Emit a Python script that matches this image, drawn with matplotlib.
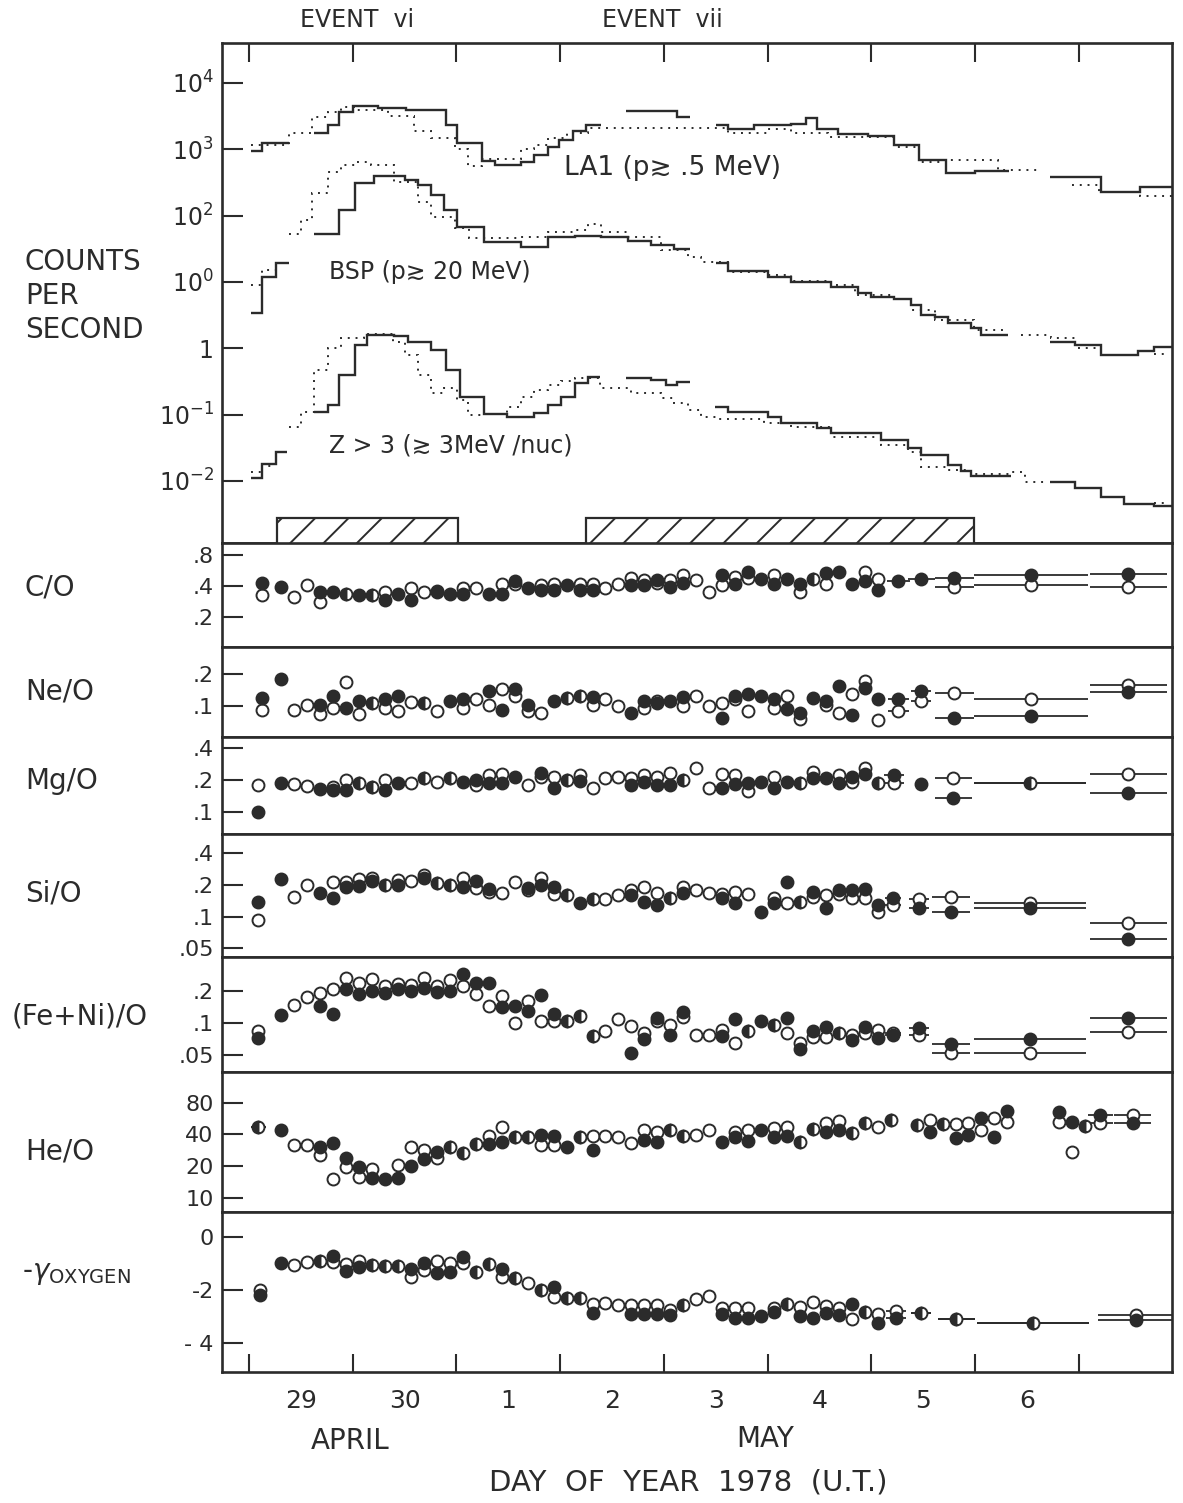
import numpy as np
import matplotlib
matplotlib.use("Agg")
import matplotlib.pyplot as plt

INK = "#2b2b2b"
plt.rcParams["font.family"] = ["DejaVu Sans"]
plt.rcParams["hatch.linewidth"] = 1.4
plt.rcParams["hatch.color"] = INK
nan = float("nan")

# ---------------- data ----------------
# day of year 1978 (119 = 29 April)
DAY_EDGES = [119, 120, 121, 122, 123, 124, 125, 126, 127]
DAY_MIDS = [119.5, 120.5, 121.5, 122.5, 123.5, 124.5, 125.5, 126.5]
DAY_LABELS = ["29", "30", "1", "2", "3", "4", "5", "6"]

# top panel: histograms as (bin edges [day], log10 counts/s) segments
LA1_SOLID = [
    ([119.02, 119.13, 119.39], [2.98, 3.10]),
    ([119.63, 119.76, 119.87, 120.00, 120.24, 120.51, 120.90, 121.01, 121.25, 121.37,
      121.62, 121.75, 121.88, 121.99, 122.12, 122.25, 122.39],
     [3.25, 3.36, 3.57, 3.65, 3.63, 3.59, 3.36, 3.09, 2.83, 2.76, 2.81, 2.91, 3.04,
      3.14, 3.27, 3.36]),
    ([122.64, 123.13, 123.25], [3.58, 3.48]),
    ([123.50, 123.62, 123.87, 124.23, 124.37, 124.48, 124.68, 124.97, 125.22, 125.46,
      125.72, 126.00, 126.33],
     [3.36, 3.30, 3.36, 3.38, 3.47, 3.30, 3.23, 3.20, 3.06, 2.84, 2.64, 2.67]),
    ([126.72, 127.22, 127.59, 127.92], [2.59, 2.35, 2.43]),
]
LA1_DOTTED = [
    ([119.02, 119.39, 119.61, 119.76, 119.89, 120.02, 120.34, 120.59, 120.76, 120.99,
      121.11, 121.25, 121.62, 121.75, 121.88, 122.07, 122.27, 123.62, 124.00, 124.23,
      124.58, 125.22, 125.46, 125.72, 126.22, 126.61],
     [3.06, 3.25, 3.48, 3.57, 3.64, 3.60, 3.50, 3.27, 3.17, 3.01, 2.75, 2.86, 3.01,
      3.06, 3.17, 3.24, 3.32, 3.24, 3.30, 3.25, 3.18, 3.04, 2.81, 2.84, 2.69]),
    ([126.94, 127.20, 127.59, 127.92], [2.46, 2.36, 2.29]),
]
BSP_SOLID = [
    ([119.02, 119.13, 119.26, 119.39], [0.53, 1.08, 1.28]),
    ([119.63, 119.87, 120.02, 120.21, 120.50, 120.63, 120.76, 120.88, 121.01, 121.27,
      121.62, 121.88, 122.14, 122.39, 122.65, 122.88, 123.10, 123.25],
     [1.72, 2.08, 2.49, 2.60, 2.54, 2.46, 2.31, 2.08, 1.83, 1.61, 1.52, 1.68, 1.70,
      1.68, 1.62, 1.56, 1.50]),
    ([123.50, 123.62, 124.00, 124.23, 124.61, 124.87, 125.00, 125.22, 125.38, 125.48,
      125.61, 125.74, 125.96, 126.06, 126.32],
     [1.28, 1.17, 1.08, 1.00, 0.93, 0.84, 0.78, 0.74, 0.65, 0.50, 0.47, 0.38, 0.30,
      0.20]),
    ([126.72, 126.96, 127.22, 127.57, 127.73, 127.92], [0.10, 0.05, -0.10, -0.04, 0.02]),
]
BSP_DOTTED = [
    ([119.02, 119.13, 119.26], [0.95, 1.18]),
    ([119.39, 119.50, 119.61, 119.76, 119.89, 120.02, 120.18, 120.40, 120.63, 120.76,
      120.99, 121.12, 121.62, 121.88, 122.14, 122.27, 122.39, 122.65, 122.97, 123.23,
      123.36, 123.62, 124.00, 124.23, 124.61, 124.84, 125.22, 125.38, 125.61, 125.99,
      126.32],
     [1.73, 1.93, 2.34, 2.66, 2.76, 2.81, 2.76, 2.51, 2.21, 1.98, 1.81, 1.66, 1.68,
      1.76, 1.78, 1.88, 1.76, 1.68, 1.48, 1.38, 1.30, 1.15, 1.10, 1.02, 0.95, 0.80,
      0.74, 0.58, 0.42, 0.27]),
    ([126.44, 126.73, 126.96, 127.20], [0.20, 0.15, 0.00]),
    ([127.73, 127.86], [-0.08]),
]
Z3_SOLID = [
    ([119.02, 119.13, 119.26, 119.37], [-1.96, -1.74, -1.56]),
    ([119.63, 119.76, 119.87, 120.02, 120.14, 120.40, 120.53, 120.76, 120.90, 121.03,
      121.27, 121.49, 121.75, 121.88, 122.01, 122.14, 122.27, 122.38],
     [-0.96, -0.86, -0.40, 0.05, 0.20, 0.18, 0.10, -0.03, -0.33, -0.73, -0.99, -1.03,
      -0.98, -0.86, -0.73, -0.53, -0.43]),
    ([122.64, 122.88, 123.02, 123.13, 123.25], [-0.44, -0.48, -0.55, -0.51]),
    ([123.49, 123.62, 124.00, 124.13, 124.48, 124.61, 125.09, 125.35, 125.48, 125.74,
      125.87, 125.96, 126.35],
     [-0.88, -0.96, -1.03, -1.13, -1.20, -1.28, -1.38, -1.51, -1.61, -1.76, -1.85,
      -1.93]),
    ([126.72, 126.96, 127.22, 127.44, 127.73, 127.92], [-2.01, -2.11, -2.24, -2.34, -2.38]),
]
Z3_DOTTED = [
    ([119.02, 119.13, 119.26], [-1.86, -1.78]),
    ([119.39, 119.50, 119.63, 119.76, 119.89, 120.11, 120.39, 120.50, 120.63, 120.76,
      120.88, 121.01, 121.11, 121.27, 121.49, 121.62, 121.75, 121.88, 122.01, 122.14,
      122.38, 122.68, 122.97, 123.10, 123.23, 123.36, 123.52, 123.97, 124.23, 124.61,
      125.09, 125.35, 125.48, 125.74, 125.96, 126.35, 126.48, 126.70],
     [-1.18, -0.96, -0.33, 0.01, 0.15, 0.22, 0.10, -0.10, -0.40, -0.68, -0.60, -0.78,
      -1.01, -0.99, -0.88, -0.73, -0.63, -0.55, -0.50, -0.45, -0.60, -0.68, -0.75,
      -0.83, -0.93, -1.03, -1.06, -1.13, -1.18, -1.33, -1.46, -1.56, -1.79, -1.84,
      -1.90, -1.87, -2.01]),
    ([127.73, 127.86], [-2.33]),
]
EVENT_START = [119.27, 122.25]
EVENT_END = [121.015, 125.99]

# composition ratios: 3-hour bin centres
T3 = [119.3125, 119.4375, 119.5625, 119.6875, 119.8125, 119.9375,
      120.0625, 120.1875, 120.3125, 120.4375, 120.5625, 120.6875, 120.8125, 120.9375,
      121.0625, 121.1875, 121.3125, 121.4375, 121.5625, 121.6875, 121.8125, 121.9375,
      122.0625, 122.1875, 122.3125, 122.4375, 122.5625, 122.6875, 122.8125, 122.9375,
      123.0625, 123.1875, 123.3125, 123.4375, 123.5625, 123.6875, 123.8125, 123.9375,
      124.0625, 124.1875, 124.3125, 124.4375, 124.5625, 124.6875, 124.8125, 124.9375,
      125.0625]

CO_FILL = [0.39, nan, nan, 0.348, 0.348, 0.33, 0.323, 0.323, 0.293, 0.335, 0.293, nan,
           0.348, 0.335, 0.335, nan, 0.335, 0.335, 0.45, 0.383, 0.362, 0.368, 0.41,
           0.362, 0.368, nan, nan, 0.406, 0.406, 0.454, 0.39, 0.428, nan, nan, 0.508,
           0.42, 0.547, 0.461, 0.42, 0.461, 0.42, 0.461, 0.535, 0.547, 0.42, 0.444, 0.362]
CO_OPEN = [nan, 0.31, 0.41, 0.278, nan, 0.33, nan, 0.323, 0.348, nan, 0.383, 0.348,
           0.355, nan, 0.383, 0.383, nan, 0.42, 0.42, nan, 0.41, 0.42, nan, 0.42, 0.42,
           0.377, 0.42, 0.472, 0.454, 0.428, 0.454, 0.508, 0.454, 0.348, 0.406, 0.49,
           0.472, nan, 0.508, nan, 0.348, 0.461, 0.42, nan, nan, 0.547, 0.461]
CO_AVG_T = [119.125, 125.26, 125.48, 125.80, 126.54, 127.48]
CO_AVG_W = [0.06, 0.11, 0.13, 0.19, 0.55, 0.37]
CO_AVG_F = [0.428, 0.444, 0.461, 0.48, 0.508, 0.52]
CO_AVG_O = [0.323, nan, nan, 0.39, 0.406, 0.39]

NE_FILL = [0.179, nan, nan, 0.1035, 0.124, 0.097, 0.111, 0.107, 0.116, 0.126, nan,
           0.107, nan, 0.111, 0.116, nan, 0.139, 0.093, 0.144, 0.1035, nan, 0.113, 0.12,
           0.124, 0.122, nan, nan, 0.086, 0.111, 0.107, 0.111, 0.122, nan, nan, 0.078,
           0.126, 0.131, 0.124, 0.117, 0.094, 0.086, 0.12, 0.113, 0.155, 0.083, 0.149,
           0.117]
NE_OPEN = [nan, 0.093, 0.103, 0.085, 0.097, 0.169, 0.085, 0.107, 0.097, 0.0895, 0.11,
           0.107, 0.0895, nan, 0.097, 0.116, 0.1035, 0.144, 0.126, 0.0895, 0.086, nan,
           0.12, 0.124, 0.1035, 0.116, 0.1, nan, 0.097, 0.111, nan, 0.10, 0.124, 0.1,
           0.107, 0.116, 0.0895, nan, 0.097, 0.124, 0.076, nan, 0.1035, 0.087, 0.131,
           0.172, 0.075]
NE_AVG_T = [119.125, 125.26, 125.48, 125.80, 126.54, 127.48]
NE_AVG_W = [0.06, 0.1, 0.1, 0.19, 0.55, 0.37]
NE_AVG_F = [0.12, 0.117, 0.139, 0.078, 0.081, 0.135]
NE_AVG_O = [0.093, 0.0895, 0.111, 0.134, 0.117, 0.158]

MG_FILL = [0.186, nan, nan, 0.165, 0.162, 0.162, 0.186, 0.173, 0.162, 0.188, nan, 0.207,
           nan, 0.207, 0.193, 0.2, 0.186, 0.186, 0.215, nan, 0.231, 0.167, 0.2, 0.196,
           nan, nan, nan, 0.179, 0.193, 0.179, 0.179, 0.2, nan, nan, 0.169, 0.182, 0.186,
           0.193, 0.169, 0.193, 0.186, 0.21, 0.21, 0.186, 0.215, 0.227, 0.186]
MG_OPEN = [nan, 0.182, 0.177, nan, 0.173, 0.2, 0.186, 0.173, 0.2, nan, 0.186, 0.207,
           0.193, 0.207, nan, 0.179, 0.223, 0.227, nan, 0.179, 0.215, 0.215, 0.2, 0.223,
           0.167, 0.21, 0.215, 0.207, 0.223, 0.215, 0.231, 0.2, 0.258, 0.169, 0.227,
           0.223, 0.158, nan, 0.215, nan, 0.186, 0.24, nan, 0.223, 0.193, 0.258, 0.186]
MG_AVG_T = [119.09, 125.22, 125.48, 125.79, 126.53, 127.48]
MG_AVG_W = [0.04, 0.1, 0.0, 0.18, 0.54, 0.37]
MG_AVG_F = [0.1, 0.223, 0.182, 0.134, 0.186, 0.149]
MG_AVG_O = [0.179, 0.186, nan, 0.207, 0.186, 0.227]

SI_FILL = [0.228, nan, nan, 0.167, 0.149, 0.193, 0.197, 0.22, 0.2, 0.2, nan, 0.235,
           0.207, 0.2, 0.193, 0.218, 0.184, nan, nan, 0.186, 0.2, 0.193, 0.159, 0.134,
           0.147, nan, nan, 0.161, 0.139, 0.129, 0.149, 0.167, nan, nan, 0.151, 0.134,
           nan, 0.111, 0.134, 0.215, 0.139, 0.173, 0.121, 0.179, 0.179, 0.184, 0.129]
SI_OPEN = [nan, 0.155, 0.2, nan, 0.215, 0.215, 0.228, 0.231, 0.2, 0.225, 0.218, 0.249,
           0.207, 0.2, 0.231, 0.186, 0.173, 0.167, 0.215, 0.179, 0.231, 0.163, 0.159,
           nan, 0.147, 0.147, 0.161, 0.179, 0.193, 0.167, 0.149, 0.193, 0.179, 0.167,
           0.163, 0.173, 0.163, nan, 0.149, 0.134, 0.139, 0.155, 0.161, 0.163, 0.151,
           0.151, 0.111]
SI_AVG_T = [119.09, 125.21, 125.46, 125.77, 126.53, 127.48]
SI_AVG_W = [0.05, 0.08, 0.1, 0.18, 0.54, 0.37]
SI_AVG_F = [0.139, 0.151, 0.12, 0.111, 0.121, 0.061]
SI_AVG_O = [0.093, 0.129, 0.147, 0.155, 0.134, 0.086]

FE_FILL = [0.118, nan, nan, 0.144, 0.122, 0.207, 0.186, 0.2, 0.19, 0.207, 0.2, 0.215,
           0.197, 0.2, 0.288, 0.24, 0.24, 0.141, 0.144, 0.129, 0.183, 0.12, 0.105, 0.116,
           0.075, nan, nan, 0.052, 0.07, 0.112, 0.077, 0.127, nan, nan, 0.075, 0.108,
           0.083, 0.1035, 0.096, 0.112, 0.056, 0.083, 0.091, 0.08, 0.069, 0.091, 0.072]
FE_OPEN = [nan, 0.147, 0.175, 0.193, 0.207, 0.268, 0.24, 0.258, 0.223, 0.232, 0.228,
           0.264, 0.223, 0.252, 0.223, 0.186, 0.144, 0.18, 0.1, 0.161, 0.1035, 0.1035,
           0.105, 0.116, 0.075, 0.083, 0.108, 0.093, 0.08, 0.1035, 0.096, 0.114, 0.077,
           0.077, 0.086, 0.0645, 0.083, nan, 0.096, 0.08, 0.0645, 0.073, 0.073, 0.08,
           0.076, 0.08, 0.086]
FE_AVG_T = [119.09, 125.21, 125.46, 125.77, 126.53, 127.48]
FE_AVG_W = [0.05, 0.08, 0.1, 0.18, 0.54, 0.37]
FE_AVG_F = [0.072, 0.077, 0.09, 0.063, 0.071, 0.11]
FE_AVG_O = [0.083, 0.08, 0.077, 0.052, 0.052, 0.082]

HE_FILL = [43.5, nan, nan, 30.5, 32.8, 24, 19.6, 15.2, 14.9, 15.2, 20, 23.1, 27.3, 30.5,
           26.8, 32.4, 32.4, 34, 37.9, 37.9, 39.4, 38.5, 30.5, 37.3, 28.3, nan, nan, nan,
           35.3, 34, 44, 38.5, nan, nan, 34, 37.9, 34.8, 44, 37.9, 38.5, 34, 44.6, 42.4,
           44, 40.9, 51.6, nan]
HE_OPEN = [nan, 31.6, 31.6, 25.3, 14.9, 19.6, 15.8, 18.6, nan, 20.4, 30, 28.3, 23.6,
           30.5, 26.8, 32.4, 38.5, 47.3, 37.9, 37.9, 31.6, 31.6, nan, 37.3, 38.5, 38.5,
           37.3, 33.2, 44, 42.4, 44, 38.5, 39.4, 43.5, nan, 42.4, 43.5, nan, 45.6, 47.3,
           34, 44.6, 50.9, 53.7, 40.9, 51.6, 47.3]
HE_LATE_T = [125.1875, 125.4375, 125.5625, 125.6875, 125.8125, 125.9375, 126.0625,
             126.1875, 126.3125, 126.8125, 126.9375, 127.0625]
HE_LATE_F = [54.7, 49.1, 42.4, 50, 36.6, 39.4, 56.8, 37.9, 67, 65.5, 52.7, 48]
HE_LATE_O = [54.7, 49.1, 54.7, 50, 50, 51.6, 44, 56.8, 52.7, 52.7, 27.3, 48]
HE_AVG_T = [119.09, 127.21, 127.52]
HE_AVG_W = [0.07, 0.12, 0.18]
HE_AVG_F = [46.7, 61.1, 50.9]
HE_AVG_O = [46.7, 50.9, 61.1]

GAM_FILL = [-1.0, nan, nan, -0.91, -0.73, -1.29, -1.13, -1.07, -1.1, -1.1, -1.23, -1.0,
            -1.38, -1.32, -0.78, -1.32, -1.03, -1.23, -1.57, nan, -2.01, -1.89, -2.32,
            -2.32, -2.89, nan, nan, -2.92, -2.92, -2.92, -2.95, -2.58, nan, nan, -2.92,
            -3.05, -3.05, -3.0, -2.83, -2.54, -3.0, -3.05, -2.89, -2.95, -2.54, -2.83,
            -3.24]
GAM_OPEN = [nan, -1.07, -0.94, -0.91, -0.94, -1.03, -0.91, -1.07, -1.1, -1.1, -1.53,
            -1.26, -0.91, -1.0, -1.0, -1.32, -1.03, -1.53, -1.57, -1.74, -2.01, -2.29,
            -2.32, -2.32, -2.54, -2.51, -2.58, -2.58, -2.58, -2.58, -2.77, -2.58, -2.36,
            -2.24, -2.67, -2.70, -2.70, nan, -2.67, -2.54, -2.64, -2.48, -2.61, -2.70,
            -3.11, -2.83, -2.92]
GAM_AVG_T = [119.11, 125.24, 125.48, 125.82, 126.56, 127.55]
GAM_AVG_W = [0.06, 0.1, 0.1, 0.18, 0.54, 0.36]
GAM_AVG_F = [-2.2, -3.05, -2.86, -3.11, -3.27, -3.14]
GAM_AVG_O = [-2.01, -2.80, -2.86, -3.11, -3.27, -2.95]

# ---------------- layout ----------------
W, H = 1183, 1503
fig = plt.figure(figsize=(W / 100, H / 100), dpi=100)
PX_LEFT, PX_RIGHT = 222, 1172
BOUNDS = [43, 543, 647, 737, 834, 957, 1072, 1212, 1372]
XLIM = (118.74, 127.90)


def px(x, y):
    return x / W, 1 - y / H


axes = []
for top, bot in zip(BOUNDS[:-1], BOUNDS[1:]):
    a = fig.add_axes([PX_LEFT / W, 1 - bot / H, (PX_RIGHT - PX_LEFT) / W, (bot - top) / H])
    a.set_xlim(*XLIM)
    for s in a.spines.values():
        s.set_linewidth(1.9)
        s.set_color(INK)
    a.tick_params(axis="y", direction="in", length=15, width=1.5, color=INK,
                  labelsize=16, labelcolor=INK, pad=6, which="major")
    a.tick_params(axis="y", which="minor", length=0)
    a.tick_params(axis="x", which="both", bottom=False, top=False, labelbottom=False)
    axes.append(a)

ax0, aco, ane, amg, asi, afe, ahe, agam = axes

# ---- top panel ----
ax0.set_yscale("log")
ax0.set_ylim(10 ** -2.935, 10 ** 4.603)
ax0.set_yticks([1e4, 1e3, 1e2, 1e1, 1e0, 1e-1, 1e-2])
ax0.set_yticklabels([r"$10^4$", r"$10^3$", r"$10^2$", r"$10^0$", "1", r"$10^{-1}$", r"$10^{-2}$"],
                    fontsize=17)
ax0.tick_params(axis="x", which="major", top=True, direction="in", length=14, width=1.5,
                color=INK)
ax0.set_xticks(DAY_EDGES)

for segs, dotted in [(LA1_SOLID, False), (LA1_DOTTED, True), (BSP_SOLID, False),
                     (BSP_DOTTED, True), (Z3_SOLID, False), (Z3_DOTTED, True)]:
    for edges, lv in segs:
        if dotted:
            ax0.stairs(10 ** np.array(lv), edges, baseline=None, color=INK, lw=1.4,
                       ls=(0, (1, 3)), zorder=2)
        else:
            ax0.stairs(10 ** np.array(lv), edges, baseline=None, color=INK, lw=1.7, zorder=3)

for s, e in zip(EVENT_START, EVENT_END):
    ax0.bar(s, 10 ** -2.56 - 1e-4, width=e - s, bottom=1e-4, align="edge",
            facecolor="white", edgecolor=INK, lw=1.6, hatch="/", zorder=4)

ax0.text(122.04, 10 ** 2.72, "LA1 (p\u2273 .5 MeV)", fontsize=19, color=INK,
         va="center", ha="left", zorder=5)
ax0.text(119.77, 10 ** 1.15, "BSP (p\u2273 20 MeV)", fontsize=17, color=INK,
         va="center", ha="left")
ax0.text(119.77, 10 ** -1.46, "Z > 3 (\u2273 3MeV /nuc)", fontsize=17, color=INK,
         va="center", ha="left")


# ---- ratio panels ----
def draw_points(ax, t, fill, opn):
    t = np.asarray(t, float)
    fill = np.asarray(fill, float)
    opn = np.asarray(opn, float)
    half = np.isclose(fill, opn)
    mk = dict(marker="o", ms=8.6, mew=1.4, mec=INK, ls="none")
    ax.plot(t[~half], opn[~half], mfc="white", zorder=3, **mk)
    ax.plot(t[~half], fill[~half], mfc=INK, zorder=4, **mk)
    ax.plot(t[half], fill[half], mfc=INK, fillstyle="left", markerfacecoloralt="white",
            zorder=4, **mk)


def draw_avg(ax, t, w, fill, opn):
    for vals in (fill, opn):
        ax.errorbar(t, vals, xerr=w, fmt="none", ecolor=INK, elinewidth=1.3, zorder=2)
    draw_points(ax, t, fill, opn)


RATIO = [
    (aco, (0.102, 1.04), [0.8, 0.4, 0.2], [".8", ".4", ".2"],
     CO_FILL, CO_OPEN, CO_AVG_T, CO_AVG_W, CO_AVG_F, CO_AVG_O),
    (ane, (0.0514, 0.361), [0.2, 0.1], [".2", ".1"],
     NE_FILL, NE_OPEN, NE_AVG_T, NE_AVG_W, NE_AVG_F, NE_AVG_O),
    (amg, (0.0612, 0.514), [0.4, 0.2, 0.1], [".4", ".2", ".1"],
     MG_FILL, MG_OPEN, MG_AVG_T, MG_AVG_W, MG_AVG_F, MG_AVG_O),
    (asi, (0.0412, 0.612), [0.4, 0.2, 0.1, 0.05], [".4", ".2", ".1", ".05"],
     SI_FILL, SI_OPEN, SI_AVG_T, SI_AVG_W, SI_AVG_F, SI_AVG_O),
    (afe, (0.0343, 0.419), [0.2, 0.1, 0.05], [".2", ".1", ".05"],
     FE_FILL, FE_OPEN, FE_AVG_T, FE_AVG_W, FE_AVG_F, FE_AVG_O),
    (ahe, (7.28, 156.7), [80, 40, 20, 10], ["80", "40", "20", "10"],
     HE_FILL, HE_OPEN, HE_AVG_T, HE_AVG_W, HE_AVG_F, HE_AVG_O),
]
for ax, ylim, ticks, labels, f, o, at, aw, af, ao in RATIO:
    ax.set_yscale("log")
    ax.set_ylim(*ylim)
    ax.set_yticks(ticks)
    ax.set_yticklabels(labels)
    ax.yaxis.set_minor_locator(matplotlib.ticker.NullLocator())
    draw_points(ax, T3, f, o)
    draw_avg(ax, at, aw, af, ao)
draw_points(ahe, HE_LATE_T, HE_LATE_F, HE_LATE_O)

agam.set_ylim(-5.1, 0.93)
agam.set_yticks([0, -2, -4])
agam.set_yticklabels(["0", "-2", "- 4"])
draw_points(agam, T3, GAM_FILL, GAM_OPEN)
draw_avg(agam, GAM_AVG_T, GAM_AVG_W, GAM_AVG_F, GAM_AVG_O)
agam.set_xticks(DAY_EDGES)
agam.tick_params(axis="x", which="major", bottom=True, direction="in", length=13,
                 width=1.5, color=INK)
agam.set_xticks(DAY_MIDS, minor=True)
agam.set_xticklabels(DAY_LABELS, minor=True)
agam.tick_params(axis="x", which="minor", bottom=True, length=0, labelbottom=True,
                 labelsize=18, labelcolor=INK, pad=12)


# ---- labels ----
def ftext(x, y, s, **kw):
    kw.setdefault("fontsize", 20)
    kw.setdefault("color", INK)
    kw.setdefault("va", "center")
    fig.text(*px(x, y), s, **kw)


ftext(25, 262, "COUNTS")
ftext(25, 296, "PER")
ftext(25, 330, "SECOND")
ftext(25, 587, "C/O")
ftext(25, 692, "Ne/O")
ftext(25, 781, "Mg/O")
ftext(25, 893, "Si/O")
ftext(12, 1016, "(Fe+Ni)/O")
ftext(25, 1152, "He/O")
ftext(22, 1273, r"-$\gamma_{\mathrm{OXYGEN}}$")
ftext(357, 20, "EVENT  vi", ha="center", fontsize=17)
ftext(662, 20, "EVENT  vii", ha="center", fontsize=17)
ftext(350, 1441, "APRIL", ha="center", fontsize=20)
ftext(765, 1439, "MAY", ha="center", fontsize=20)
ftext(688, 1483, "DAY  OF  YEAR  1978  (U.T.)", ha="center", fontsize=21)

fig.savefig("out.png", dpi=100, facecolor="white")
